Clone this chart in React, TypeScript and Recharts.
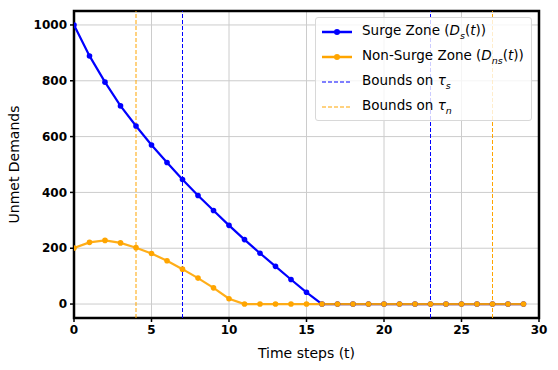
import { CartesianGrid, Line, LineChart, ReferenceArea, ReferenceLine, XAxis, YAxis } from "recharts"

const steps = [0, 1, 2, 3, 4, 5, 6, 7, 8, 9, 10, 11, 12, 13, 14, 15, 16, 17, 18, 19, 20, 21, 22, 23, 24, 25, 26, 27, 28, 29]
const surge = [1000, 889, 795, 710, 638, 570, 507, 446, 389, 335, 282, 231, 182, 135, 88, 42, 0, 0, 0, 0, 0, 0, 0, 0, 0, 0, 0, 0, 0, 0]
const nonSurge = [201, 221, 228, 219, 202, 181, 155, 125, 93, 58, 19, 0, 0, 0, 0, 0, 0, 0, 0, 0, 0, 0, 0, 0, 0, 0, 0, 0, 0, 0]
const boundsSurge = [7, 23]
const boundsNonSurge = [4, 27]
const xTicks = [0, 5, 10, 15, 20, 25, 30]
const yTicks = [0, 200, 400, 600, 800, 1000]

const data = steps.map((t, i) => ({ t, surge: surge[i], nonSurge: nonSurge[i] }))

const BLUE = "#0000ff"
const ORANGE = "#ffa500"
const FONT = "'DejaVu Sans', sans-serif"

const tickStyle = { fontFamily: FONT, fontSize: 12, fontWeight: 700, fill: "#000" }

function LegendRow({ color, dashed, children }: { color: string; dashed?: boolean; children: any }) {
  return (
    <div style={{ display: "flex", alignItems: "center", height: 25 }}>
      <svg width={34} height={10} style={{ marginRight: 8 }}>
        {dashed ? (
          <line x1={2} x2={32} y1={5} y2={5} stroke={color} strokeWidth={1} strokeDasharray="4 2" />
        ) : (
          <>
            <line x1={2} x2={32} y1={5} y2={5} stroke={color} strokeWidth={2.5} />
            <circle cx={17} cy={5} r={3} fill={color} />
          </>
        )}
      </svg>
      <span>{children}</span>
    </div>
  )
}

export default function App() {
  return (
    <div style={{ position: "absolute", left: 0, top: 0, width: 558, height: 370, background: "#fff" }}>
      <LineChart width={558} height={370} data={data} margin={{ top: 11, right: 19, bottom: 0, left: 0 }}>
        <CartesianGrid stroke="#cccccc" strokeWidth={1} horizontal vertical />
        <XAxis
          dataKey="t"
          type="number"
          domain={[0, 30]}
          ticks={xTicks}
          allowDataOverflow
          height={52}
          tick={tickStyle}
          tickSize={4}
          tickMargin={3}
          stroke="#000"
          tickLine={{ stroke: "#000", strokeWidth: 1.5 }}
          axisLine={false}
          label={{ value: "Time steps (t)", position: "insideBottom", offset: 12, style: { fontFamily: FONT, fontSize: 14, fill: "#000" } }}
        />
        <YAxis
          type="number"
          domain={[-50, 1050]}
          ticks={yTicks}
          allowDataOverflow
          width={74}
          tick={tickStyle}
          tickSize={4}
          tickMargin={3}
          stroke="#000"
          tickLine={{ stroke: "#000", strokeWidth: 1.5 }}
          axisLine={false}
          label={{ value: "Unmet Demands", angle: -90, position: "insideLeft", offset: 14, style: { fontFamily: FONT, fontSize: 14, fill: "#000", textAnchor: "middle" } }}
        />
        {boundsSurge.map((x) => (
          <ReferenceLine key={"s" + x} x={x} stroke={BLUE} strokeWidth={1} strokeDasharray="4 2" />
        ))}
        {boundsNonSurge.map((x) => (
          <ReferenceLine key={"n" + x} x={x} stroke={ORANGE} strokeWidth={1} strokeDasharray="4 2" />
        ))}
        <Line dataKey="surge" stroke={BLUE} strokeWidth={2.2} dot={{ r: 2.8, fill: BLUE, stroke: BLUE, strokeWidth: 0 }} isAnimationActive={false} />
        <Line dataKey="nonSurge" stroke={ORANGE} strokeOpacity={0.9} strokeWidth={2.2} dot={{ r: 2.8, fill: ORANGE, stroke: ORANGE, strokeWidth: 0 }} isAnimationActive={false} />
        <ReferenceArea x1={0} x2={30} y1={-50} y2={1050} fill="none" stroke="#000" strokeWidth={2.5} ifOverflow="visible" />
      </LineChart>
      <div
        style={{
          position: "absolute",
          left: 315,
          top: 17,
          width: 217,
          padding: "1px 0 1px 4px",
          border: "1px solid #d8d8d8",
          borderRadius: 3,
          background: "rgba(255,255,255,0.8)",
          fontFamily: FONT,
          fontSize: 13.5,
          color: "#000",
          boxSizing: "border-box",
        }}
      >
        <LegendRow color={BLUE}>
          Surge Zone (<i>D</i><sub style={{ fontSize: 9.5 }}><i>s</i></sub>(<i>t</i>))
        </LegendRow>
        <LegendRow color={ORANGE}>
          Non-Surge Zone (<i>D</i><sub style={{ fontSize: 9.5 }}><i>ns</i></sub>(<i>t</i>))
        </LegendRow>
        <LegendRow color={BLUE} dashed>
          Bounds on <i>τ</i><sub style={{ fontSize: 9.5 }}><i>s</i></sub>
        </LegendRow>
        <LegendRow color={ORANGE} dashed>
          Bounds on <i>τ</i><sub style={{ fontSize: 9.5 }}><i>n</i></sub>
        </LegendRow>
      </div>
    </div>
  )
}
